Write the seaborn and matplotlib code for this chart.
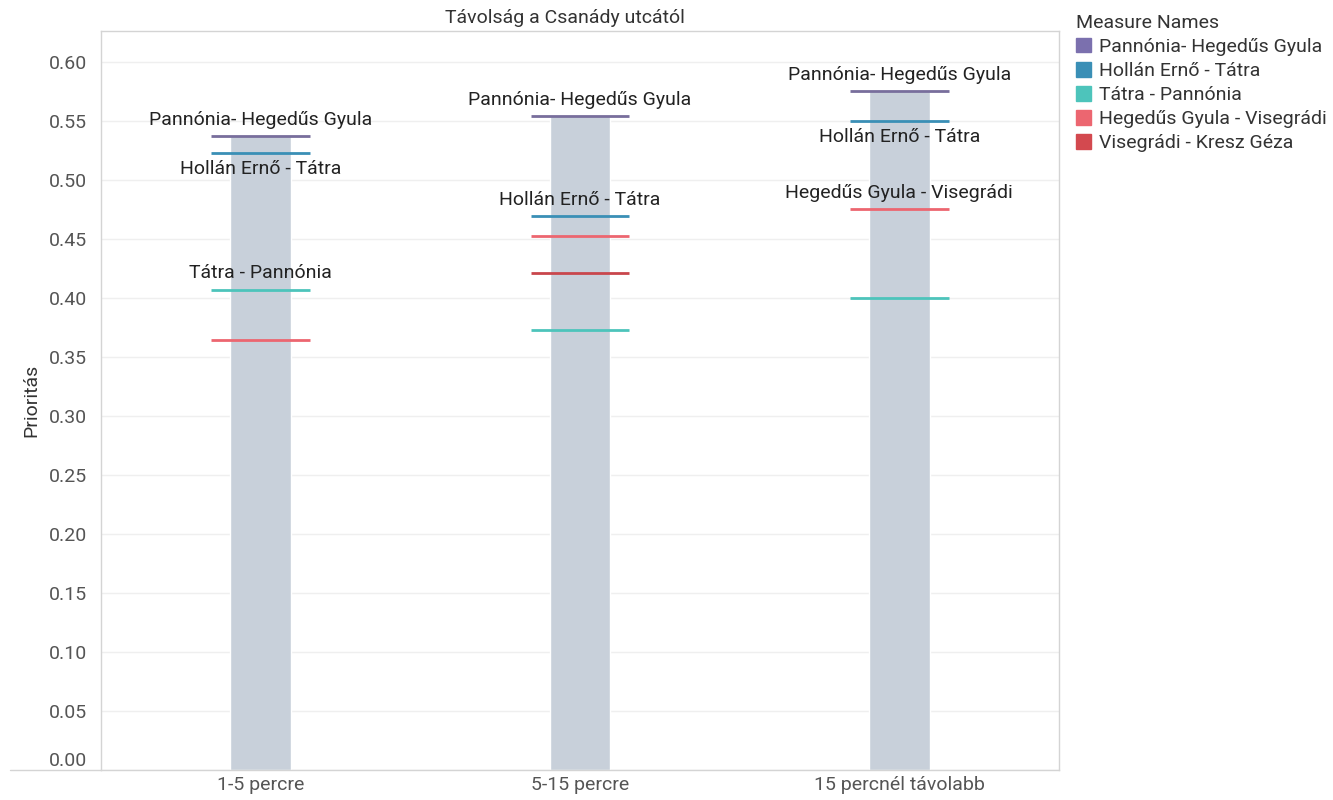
import matplotlib
matplotlib.use('Agg')
import matplotlib.pyplot as plt
import matplotlib.patches as mpatches
import seaborn as sns
import pandas as pd
import numpy as np

# ---- data ----
categories = ['1-5 percre', '5-15 percre', '15 percnél távolabb']
series = ['Pannónia- Hegedűs Gyula', 'Hollán Ernő - Tátra', 'Tátra - Pannónia',
          'Hegedűs Gyula - Visegrádi', 'Visegrádi - Kresz Géza']
pannonia_hegedus = [0.537, 0.554, 0.575]
hollan_tatra = [0.523, 0.469, 0.550]
tatra_pannonia = [0.407, 0.373, 0.400]
hegedus_visegradi = [0.364, 0.452, 0.475]
visegradi_kresz = [np.nan, 0.421, np.nan]

# label placement per series/category: 'above', 'below' or None
label_pos = {
    'Pannónia- Hegedűs Gyula': ['above', 'above', 'above'],
    'Hollán Ernő - Tátra': ['below', 'above', 'below'],
    'Tátra - Pannónia': ['above', None, None],
    'Hegedűs Gyula - Visegrádi': [None, None, 'above'],
    'Visegrádi - Kresz Géza': [None, None, None],
}

COLORS = ['#7b70ae', '#3a8fb6', '#4dc4bb', '#ec6670', '#d3494f']
LINE_COLORS = ['#786e9c', '#3a8fb6', '#4dc4bb', '#ec6670', '#c9464c']

sns.set_theme(style='white')
plt.rcParams['font.family'] = ['Roboto', 'DejaVu Sans']

values = [pannonia_hegedus, hollan_tatra, tatra_pannonia, hegedus_visegradi, visegradi_kresz]
df = pd.DataFrame({s: v for s, v in zip(series, values)}, index=categories)
df.index.name = 'cat'
long = df.reset_index().melt(id_vars='cat', var_name='measure', value_name='val')
bar_df = pd.DataFrame({'cat': categories, 'top': df.max(axis=1).values})

fig = plt.figure(figsize=(13.33, 8), dpi=100)
ax = fig.add_axes([101 / 1333, 1 - 770 / 800, 958 / 1333, 739 / 800])

sns.barplot(data=bar_df, x='cat', y='top', color='#c8d0da', width=0.19,
            saturation=1, ax=ax, zorder=2)

half = 0.155
for i, s in enumerate(series):
    sub = long[long['measure'] == s]
    for j, cat in enumerate(categories):
        v = sub.loc[sub['cat'] == cat, 'val'].values[0]
        if np.isnan(v):
            continue
        ax.hlines(v, j - half, j + half, color=LINE_COLORS[i], lw=2, zorder=3)
        pos = label_pos[s][j]
        if pos == 'above':
            ax.text(j, v + 0.006, s, ha='center', va='bottom', fontsize=14, color='#222222', zorder=4)
        elif pos == 'below':
            ax.text(j, v - 0.006, s, ha='center', va='top', fontsize=14, color='#222222', zorder=4)

ax.set_xlim(-0.5, 2.5)
ax.set_ylim(0, 0.626)
ax.set_yticks(np.arange(0, 0.61, 0.05))
ax.set_yticklabels([f'{t:.2f}' for t in np.arange(0, 0.61, 0.05)])
ax.get_yticklabels()[0].set_verticalalignment('bottom')  # 0.00 sits above the baseline
ax.yaxis.grid(True, color='#efefef', lw=1, zorder=0)
ax.set_axisbelow(True)
ax.tick_params(axis='y', labelsize=14, colors='#555555', length=0, pad=10)
ax.tick_params(axis='x', labelsize=14, colors='#555555', length=0, pad=4)
ax.set_xlabel('')
ax.set_ylabel('Prioritás', fontsize=14, color='#333333', labelpad=6)
for sp in ax.spines.values():
    sp.set_color('#d4d4d4')
    sp.set_linewidth(1)

# baseline extends to the left of the axis like the reference
fig.add_artist(plt.Line2D([10 / 1333, 101 / 1333], [1 - 770 / 800] * 2,
                          color='#d4d4d4', lw=1))

fig.text(565 / 1333, 1 - 18 / 800, 'Távolság a Csanády utcától', ha='center', va='center',
         fontsize=14, color='#333333')

handles = [mpatches.Patch(color=c, label=s) for s, c in zip(series, COLORS)]
leg = fig.legend(handles=handles, title='Measure Names', loc='upper left',
                 bbox_to_anchor=(1068 / 1333, 1 - 6 / 800), frameon=False,
                 fontsize=14, title_fontsize=14, handlelength=0.8, handleheight=0.8,
                 handletextpad=0.4, labelspacing=0.3, borderaxespad=0)
leg._legend_box.align = 'left'
for t in leg.get_texts():
    t.set_color('#333333')
leg.get_title().set_color('#333333')

fig.savefig('out.png', dpi=100, facecolor='white')
